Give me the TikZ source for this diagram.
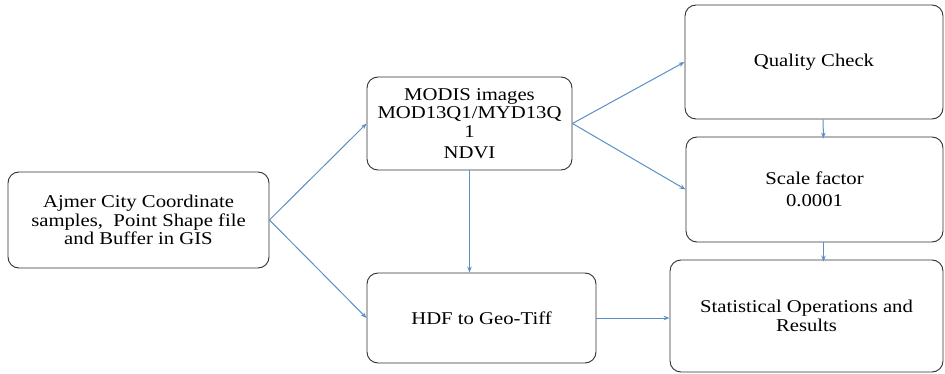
\documentclass[tikz,border=0pt]{standalone}
\usepackage{fontspec}
\setmainfont[FakeStretch=1.15]{Liberation Serif}
\usetikzlibrary{arrows.meta}
\definecolor{arr}{HTML}{5B8FC8}
\definecolor{boxline}{HTML}{303030}
\begin{document}
\begin{tikzpicture}[x=1pt,y=-1pt,
  box/.style={draw=boxline,line width=0.9pt,rounded corners=11pt,align=center,
    inner sep=2pt,font=\rmfamily\fontsize{18}{18.5}\selectfont},
  conn/.style={draw=arr,line width=1pt,-{Stealth[length=6pt,width=4.5pt]}}]
\useasboundingbox (0,0) rectangle (945,374);
\node[box,minimum width=261pt,minimum height=96pt] (A) at (138.5,220)
  {Ajmer City Coordinate\\samples,\ \ Point Shape file\\and Buffer in GIS};
\node[box,minimum width=205pt,minimum height=93pt] (M) at (469.5,123.5)
  {MODIS images\\MOD13Q1/MYD13Q\\1\\[3pt]NDVI};
\node[box,minimum width=229pt,minimum height=90pt] (H) at (481.5,318)
  {HDF to Geo-Tiff};
\node[box,minimum width=258pt,minimum height=114pt] (Q) at (814,62)
  {Quality Check};
\node[box,minimum width=257pt,minimum height=105pt] (S) at (814.5,189.5)
  {Scale factor\\[4pt]0.0001};
\node[box,minimum width=273pt,minimum height=112pt] (R) at (806.5,316)
  {Statistical Operations and\\Results};
\draw[conn] (A.east) -- (M.west);
\draw[conn] (A.east) -- (H.west);
\draw[conn] (M.south) -- (M.south |- H.north);
\draw[conn] (M.east) -- (Q.west);
\draw[conn] (M.east) -- (S.west);
\draw[conn] ([xshift=9pt]Q.south) -- ([xshift=9pt,yshift=-2pt]S.north);
\draw[conn] ([xshift=9pt]S.south) -- ([xshift=9pt,yshift=-2pt]S.south |- R.north);
\draw[conn] (H.east) -- (H.east -| R.west);
\end{tikzpicture}
\end{document}
